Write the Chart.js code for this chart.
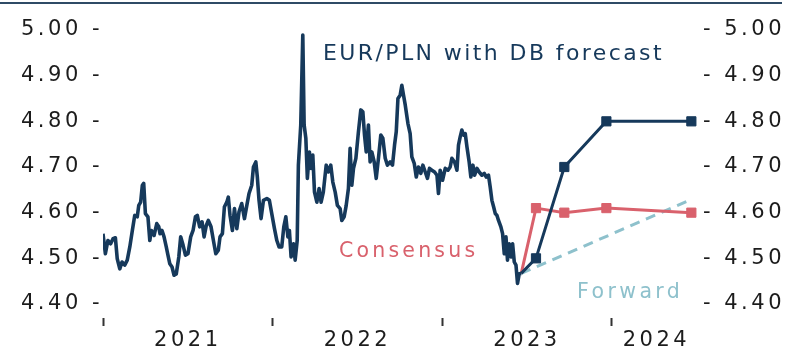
<!DOCTYPE html>
<html>
<head>
<meta charset="utf-8">
<script src="https://cdn.jsdelivr.net/npm/chart.js@4"></script>
<style>
  html, body { margin: 0; padding: 0; background: #fff; }
  #wrap { width: 800px; height: 361px; position: relative; }
</style>
</head>
<body>
<div id="wrap"><canvas id="fxChart"></canvas></div>
<script>
// EUR/PLN history (fractional years)
const histYears = [
  2021.000, 2021.014, 2021.029, 2021.045, 2021.059, 2021.073, 2021.084, 2021.099, 2021.112, 2021.128,
  2021.143, 2021.158, 2021.173, 2021.187, 2021.202, 2021.211, 2021.222, 2021.232, 2021.240, 2021.250,
  2021.265, 2021.276, 2021.285, 2021.301, 2021.317, 2021.329, 2021.336, 2021.348, 2021.360, 2021.373,
  2021.383, 2021.394, 2021.407, 2021.419, 2021.432, 2021.447, 2021.458, 2021.472, 2021.486, 2021.501,
  2021.517, 2021.531, 2021.545, 2021.556, 2021.570, 2021.584, 2021.596, 2021.609, 2021.621, 2021.637,
  2021.651, 2021.665, 2021.680, 2021.690, 2021.704, 2021.716, 2021.730, 2021.739, 2021.749, 2021.763,
  2021.775, 2021.789, 2021.802, 2021.818, 2021.834, 2021.848, 2021.861, 2021.877, 2021.887, 2021.901,
  2021.910, 2021.920, 2021.932, 2021.946, 2021.966, 2021.981, 2021.995, 2022.011, 2022.025, 2022.038,
  2022.054, 2022.066, 2022.078, 2022.090, 2022.099, 2022.109, 2022.123, 2022.133, 2022.145, 2022.152,
  2022.166, 2022.178, 2022.186, 2022.196, 2022.205, 2022.217, 2022.227, 2022.237, 2022.247, 2022.261,
  2022.274, 2022.286, 2022.299, 2022.316, 2022.329, 2022.343, 2022.355, 2022.369, 2022.382, 2022.398,
  2022.408, 2022.422, 2022.434, 2022.447, 2022.457, 2022.467, 2022.477, 2022.491, 2022.506, 2022.520,
  2022.532, 2022.542, 2022.552, 2022.565, 2022.575, 2022.585, 2022.599, 2022.611, 2022.624, 2022.638,
  2022.650, 2022.664, 2022.677, 2022.693, 2022.707, 2022.719, 2022.729, 2022.739, 2022.752, 2022.762,
  2022.772, 2022.782, 2022.798, 2022.811, 2022.821, 2022.835, 2022.847, 2022.860, 2022.874, 2022.886,
  2022.900, 2022.913, 2022.925, 2022.939, 2022.955, 2022.969, 2022.978, 2022.988, 2023.002, 2023.018,
  2023.034, 2023.047, 2023.057, 2023.073, 2023.087, 2023.096, 2023.106, 2023.116, 2023.126, 2023.136,
  2023.146, 2023.159, 2023.169, 2023.181, 2023.191, 2023.205, 2023.218, 2023.234, 2023.248, 2023.260,
  2023.273, 2023.283, 2023.293, 2023.303, 2023.313, 2023.323, 2023.332, 2023.346, 2023.356, 2023.366,
  2023.376, 2023.385, 2023.395, 2023.407, 2023.415, 2023.425, 2023.435, 2023.444, 2023.454, 2023.466
];
const histRate = [
  4.554, 4.510, 4.539, 4.532, 4.543, 4.545, 4.499, 4.477, 4.492, 4.485,
  4.496, 4.525, 4.561, 4.594, 4.591, 4.616, 4.623, 4.660, 4.664, 4.598,
  4.591, 4.539, 4.561, 4.550, 4.576, 4.569, 4.554, 4.561, 4.547, 4.525,
  4.507, 4.488, 4.481, 4.463, 4.466, 4.503, 4.547, 4.529, 4.507, 4.510,
  4.547, 4.561, 4.591, 4.594, 4.569, 4.580, 4.547, 4.572, 4.583, 4.569,
  4.539, 4.510, 4.518, 4.547, 4.554, 4.613, 4.623, 4.634, 4.594, 4.561,
  4.609, 4.565, 4.602, 4.620, 4.587, 4.616, 4.642, 4.660, 4.700, 4.711,
  4.678, 4.627, 4.587, 4.627, 4.631, 4.627, 4.598, 4.565, 4.539, 4.525,
  4.525, 4.569, 4.591, 4.547, 4.561, 4.503, 4.532, 4.496, 4.539, 4.704,
  4.792, 4.989, 4.792, 4.763, 4.675, 4.733, 4.697, 4.726, 4.645, 4.623,
  4.653, 4.623, 4.645, 4.704, 4.689, 4.704, 4.667, 4.645, 4.616, 4.609,
  4.583, 4.591, 4.616, 4.653, 4.741, 4.660, 4.697, 4.719, 4.777, 4.825,
  4.821, 4.770, 4.733, 4.792, 4.711, 4.733, 4.711, 4.675, 4.719, 4.770,
  4.763, 4.719, 4.704, 4.711, 4.704, 4.748, 4.777, 4.850, 4.857, 4.879,
  4.857, 4.836, 4.795, 4.773, 4.722, 4.708, 4.678, 4.700, 4.686, 4.704,
  4.689, 4.675, 4.697, 4.693, 4.689, 4.682, 4.642, 4.693, 4.671, 4.697,
  4.693, 4.700, 4.719, 4.711, 4.693, 4.748, 4.766, 4.781, 4.770, 4.773,
  4.744, 4.711, 4.678, 4.704, 4.682, 4.697, 4.689, 4.682, 4.686, 4.678,
  4.682, 4.656, 4.627, 4.613, 4.598, 4.594, 4.583, 4.569, 4.554, 4.510,
  4.547, 4.496, 4.532, 4.503, 4.532, 4.492, 4.485, 4.445, 4.466, 4.467
];

// forecasts
const fcYears = [2023.466, 2023.553, 2023.720, 2023.968, 2024.469];
const dbForecast = [4.467, 4.50, 4.70, 4.80, 4.80];
const consensus = [4.467, 4.61, 4.60, 4.61, 4.60];
const fwdYears = [2023.466, 2024.475];
const forwardRate = [4.467, 4.63];

// axes
const yTicks = [4.40, 4.50, 4.60, 4.70, 4.80, 4.90, 5.00];
const xTickYears = [2021, 2021.5, 2022, 2022.5, 2023, 2023.5, 2024, 2024.263];
const xTickLabels = ['', '2021', '', '2022', '', '2023', '', '2024'];

const NAVY = '#16395b';
const RED = '#d9616c';
const LIGHTBLUE = '#8ec1cc';
const INK = '#1c1c1c';

Chart.defaults.font.family = "'DejaVu Sans', sans-serif";
Chart.defaults.font.size = 21;
Chart.defaults.color = INK;

function toPoints(xs, ys) {
  return xs.map((x, i) => ({ x: x, y: ys[i] }));
}

// text labels placed on the chart
const notes = [
  { text: 'EUR/PLN with DB forecast', x: 323, y: 60, color: NAVY, size: 22, spacing: '2.4px' },
  { text: 'Consensus', x: 339, y: 257, color: RED, size: 20.5, spacing: '3.2px' },
  { text: 'Forward', x: 577, y: 298, color: LIGHTBLUE, size: 20.5, spacing: '3.4px' }
];

const decorPlugin = {
  id: 'decor',
  beforeUpdate(chart) {
    chart.ctx.letterSpacing = '3.5px';
  },
  beforeDraw(chart) {
    const ctx = chart.ctx;
    ctx.letterSpacing = '3.5px';
    ctx.save();
    ctx.fillStyle = '#2f4b66';
    ctx.fillRect(0, 2, 782, 2);
    ctx.restore();
  },
  afterDraw(chart) {
    const ctx = chart.ctx;
    ctx.save();
    notes.forEach(n => {
      ctx.font = n.size + "px 'DejaVu Sans', sans-serif";
      ctx.letterSpacing = n.spacing;
      ctx.fillStyle = n.color;
      ctx.textAlign = 'left';
      ctx.textBaseline = 'alphabetic';
      ctx.fillText(n.text, n.x, n.y);
    });
    ctx.restore();
  }
};

const yAxisBase = {
  type: 'linear',
  min: 4.40,
  max: 5.00,
  grid: { display: false, drawTicks: false },
  border: { display: false },
  afterBuildTicks: scale => { scale.ticks = yTicks.map(v => ({ value: v })); }
};

new Chart(document.getElementById('fxChart'), {
  type: 'line',
  data: {
    datasets: [
      {
        label: 'Forward',
        data: toPoints(fwdYears, forwardRate),
        borderColor: LIGHTBLUE,
        borderWidth: 3,
        borderDash: [10, 7],
        pointRadius: 0,
        order: 4
      },
      {
        label: 'Consensus',
        data: toPoints(fcYears, consensus),
        borderColor: RED,
        backgroundColor: RED,
        borderWidth: 3,
        pointStyle: 'rect',
        pointRadius: [0, 6.5, 6.5, 6.5, 6.5],
        pointBorderWidth: 1,
        order: 3
      },
      {
        label: 'DB forecast',
        data: toPoints(fcYears, dbForecast),
        borderColor: NAVY,
        backgroundColor: NAVY,
        borderWidth: 3,
        pointStyle: 'rect',
        pointRadius: [0, 6.5, 6.5, 6.5, 6.5],
        pointBorderWidth: 1,
        order: 2
      },
      {
        label: 'EUR/PLN',
        data: toPoints(histYears, histRate),
        borderColor: NAVY,
        borderWidth: 3.6,
        borderJoinStyle: 'round',
        pointRadius: 0,
        order: 1
      }
    ]
  },
  options: {
    responsive: true,
    maintainAspectRatio: false,
    animation: false,
    layout: { padding: { top: 30, left: 0, right: 0, bottom: 0 } },
    plugins: {
      legend: { display: false },
      tooltip: { enabled: false }
    },
    scales: {
      x: {
        type: 'linear',
        min: 2021,
        max: 2024.52,
        border: { display: false },
        grid: {
          display: true,
          drawOnChartArea: false,
          drawTicks: true,
          tickLength: 22,
          tickWidth: 2,
          tickBorderDash: [0, 14, 8, 60],
          tickColor: ctx => xTickLabels[ctx.index] === '' ? '#333333' : 'rgba(0,0,0,0)'
        },
        ticks: {
          padding: 2,
          maxRotation: 0,
          autoSkip: false,
          callback: (value, index) => xTickLabels[index]
        },
        afterBuildTicks: scale => { scale.ticks = xTickYears.map(v => ({ value: v })); },
        afterFit: scale => { scale.height = 57; }
      },
      y: Object.assign({}, yAxisBase, {
        position: 'left',
        ticks: { padding: 0, callback: v => v.toFixed(2) + ' -' },
        afterFit: scale => { scale.width = 103; }
      }),
      y2: Object.assign({}, yAxisBase, {
        position: 'right',
        ticks: { padding: 3, callback: v => '- ' + v.toFixed(2) },
        afterFit: scale => { scale.width = 100; }
      })
    }
  },
  plugins: [decorPlugin]
});
</script>
</body>
</html>
